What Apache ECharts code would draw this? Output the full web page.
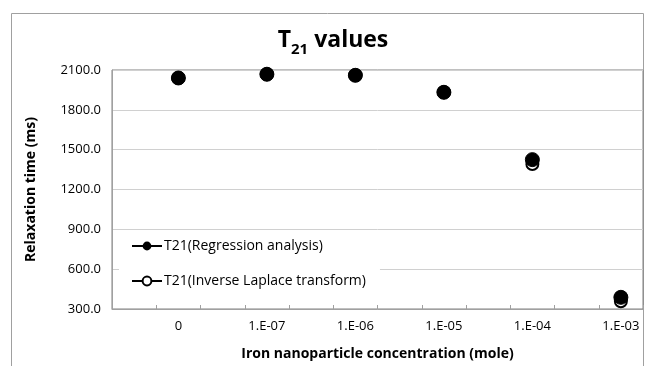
<!DOCTYPE html>
<html>
<head>
<meta charset="utf-8">
<script src="https://cdn.jsdelivr.net/npm/echarts@6/dist/echarts.min.js"></script>
<style>html,body{margin:0;padding:0;background:#fff}#c{width:649px;height:366px}</style>
</head>
<body>
<div id="c"></div>
<script>
const categories = ["0", "1.E-07", "1.E-06", "1.E-05", "1.E-04", "1.E-03"];
const regression = [2040, 2068, 2060, 1932, 1425, 388];
const inverseLaplace = [2040, 2068, 2060, 1932, 1392, 358];
const yTicks = [300, 600, 900, 1200, 1500, 1800, 2100];
const seriesNames = ["T21(Regression analysis)", "T21(Inverse Laplace transform)"];

const xPos = i => 1.5 + 2 * i;
const font = "'Open Sans', 'Noto Sans', sans-serif";

const chart = echarts.init(document.getElementById('c'));
chart.setOption({
  animation: false,
  backgroundColor: '#fff',
  title: {
    text: '{a|T}{s|21}{a| values}',
    left: 328, top: 17, textAlign: 'center',
    textStyle: {
      rich: {
        a: {fontSize: 23, fontWeight: 'bold', fontFamily: font, color: '#000', lineHeight: 30, verticalAlign: 'bottom'},
        s: {fontSize: 15, fontWeight: 'bold', fontFamily: font, color: '#000', lineHeight: 30, verticalAlign: 'bottom', padding: [0, 0, -5, 0]}
      }
    }
  },
  graphic: [{
    type: 'rect', silent: true, z: -10,
    shape: {x: 11.5, y: 13.5, width: 632, height: 400},
    style: {fill: 'none', stroke: '#a0a0a0', lineWidth: 1}
  }],
  grid: {left: 112, right: 6, top: 70, bottom: 57, show: true, borderColor: '#808080', borderWidth: 1},
  legend: {
    orient: 'vertical', left: 119, top: 231,
    backgroundColor: '#fff',
    padding: [8, 14, 8, 12],
    itemWidth: 30, itemHeight: 11, itemGap: 21,
    textStyle: {fontSize: 14, fontFamily: font, color: '#000', padding: [0, 0, 0, -3]},
    lineStyle: {color: '#000', width: 2, opacity: 1},
    data: [
      {name: seriesNames[0]},
      {name: seriesNames[1], itemStyle: {borderWidth: 2.2}}
    ]
  },
  xAxis: {
    type: 'value', min: 0, max: 12, interval: 1,
    name: 'Iron nanoparticle concentration (mole)', nameLocation: 'middle', nameGap: 38,
    nameTextStyle: {fontSize: 14, fontWeight: 'bold', fontFamily: font, color: '#000'},
    axisLine: {lineStyle: {color: '#a0a0a0'}},
    axisTick: {show: true, inside: true, length: 4, lineStyle: {color: '#a0a0a0'}},
    splitLine: {show: false},
    axisLabel: {
      customValues: categories.map((c, i) => xPos(i)),
      formatter: v => { const i = Math.round((v - 1.5) / 2); return categories[i] !== undefined ? categories[i] : ''; },
      fontSize: 13, fontFamily: font, color: '#000', margin: 11
    }
  },
  yAxis: {
    type: 'value', min: yTicks[0], max: yTicks[yTicks.length - 1], interval: 300,
    name: 'Relaxation time (ms)', nameLocation: 'middle', nameGap: 74,
    nameTextStyle: {fontSize: 14, fontWeight: 'bold', fontFamily: font, color: '#000'},
    axisLine: {show: true, lineStyle: {color: '#a0a0a0'}},
    axisTick: {show: false},
    splitLine: {lineStyle: {color: '#d0d0d0'}},
    axisLabel: {formatter: v => v.toFixed(1), fontSize: 13, fontFamily: font, color: '#000', margin: 11}
  },
  series: [
    {
      name: seriesNames[0], type: 'line', z: 3,
      data: regression.map((v, i) => [xPos(i), v]),
      symbol: 'circle', symbolSize: 14,
      itemStyle: {color: '#000', borderColor: '#000'},
      lineStyle: {width: 0, opacity: 0}
    },
    {
      name: seriesNames[1], type: 'line', z: 2,
      data: inverseLaplace.map((v, i) => [xPos(i), v]),
      symbol: 'emptyCircle', symbolSize: 12,
      itemStyle: {color: '#000', borderColor: '#000', borderWidth: 2.5},
      lineStyle: {width: 0, opacity: 0}
    }
  ]
});
</script>
</body>
</html>
